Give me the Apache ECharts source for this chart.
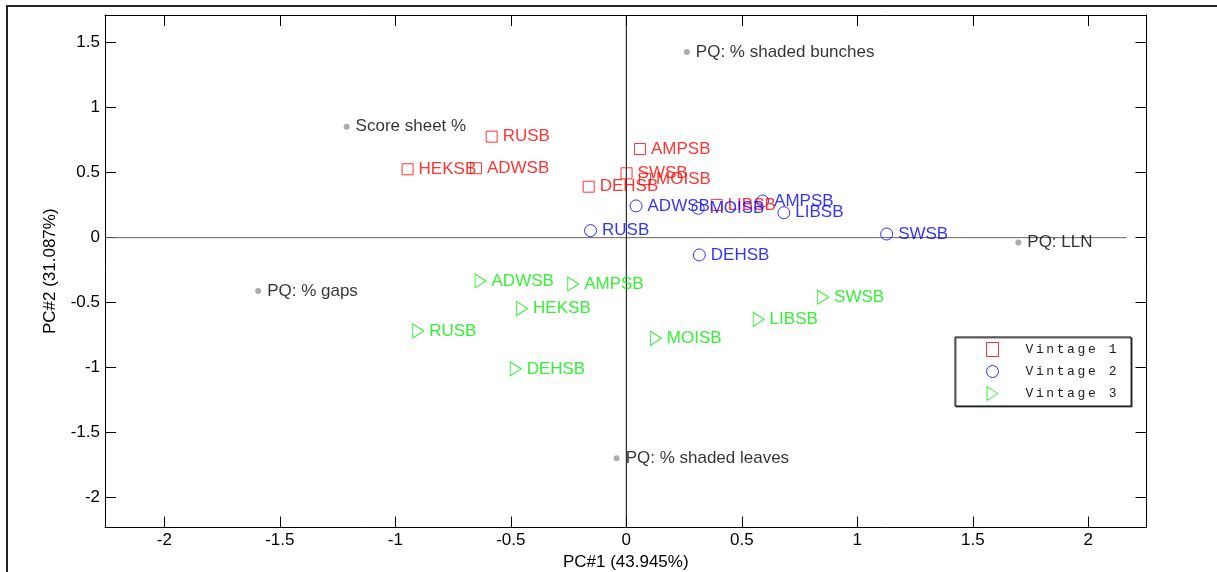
<!DOCTYPE html>
<html>
<head>
<meta charset="utf-8">
<title>PCA scores and loadings</title>
<script src="https://cdn.jsdelivr.net/npm/echarts@6/dist/echarts.min.js"></script>
<style>
  html, body { margin: 0; padding: 0; background: #fff; }
  #chart { width: 1217px; height: 572px; }
</style>
</head>
<body>
<div id="chart"></div>
<script>
// Scores, vintage 1
const v1Names = ['RUSB', 'HEKSB', 'ADWSB', 'AMPSB', 'SWSB', 'MOISB', 'DEHSB', 'LIBSB'];
const v1PC1 = [-0.583, -0.947, -0.651, 0.059, 0.001, 0.081, -0.163, 0.391];
const v1PC2 = [0.777, 0.526, 0.534, 0.682, 0.495, 0.452, 0.392, 0.252];

// Scores, vintage 2
const v2Names = ['ADWSB', 'MOISB', 'AMPSB', 'LIBSB', 'RUSB', 'DEHSB', 'SWSB'];
const v2PC1 = [0.042, 0.311, 0.590, 0.682, -0.155, 0.316, 1.127];
const v2PC2 = [0.244, 0.226, 0.282, 0.192, 0.054, -0.133, 0.028];

// Scores, vintage 3
const v3Names = ['ADWSB', 'AMPSB', 'HEKSB', 'RUSB', 'DEHSB', 'SWSB', 'LIBSB', 'MOISB'];
const v3PC1 = [-0.631, -0.230, -0.451, -0.901, -0.479, 0.852, 0.573, 0.128];
const v3PC2 = [-0.333, -0.356, -0.546, -0.718, -1.010, -0.458, -0.628, -0.774];

// Variable loadings
const loadNames = ['Score sheet %', 'PQ: % shaded bunches', 'PQ: LLN', 'PQ: % gaps', 'PQ: % shaded leaves'];
const loadPC1 = [-1.211, 0.262, 1.697, -1.594, -0.042];
const loadPC2 = [0.854, 1.428, -0.038, -0.410, -1.697];

// Axes
const xRange = [-2.257, 2.252];
const yRange = [-2.23, 1.713];
const xTicks = [-2, -1.5, -1, -0.5, 0, 0.5, 1, 1.5, 2];
const yTicks = [-2, -1.5, -1, -0.5, 0, 0.5, 1, 1.5];
const xTitle = 'PC#1 (43.945%)';
const yTitle = 'PC#2 (31.087%)';
const hZeroSpan = [-2.257, 2.166];

const legendNames = ['Vintage 1', 'Vintage 2', 'Vintage 3'];

const FONT = '"Liberation Sans", Arial, sans-serif';
const FS = 17;

const RED = '#ff0000';
const BLUE = '#0000ff';
const GREEN = '#00ee00';

function points(names, xs, ys) {
  return names.map((n, i) => ({ name: n, value: [xs[i], ys[i]] }));
}

function scoreSeries(name, color, symbol, size, rotate, data) {
  return {
    name: name,
    type: 'scatter',
    symbol: symbol,
    symbolSize: size,
    symbolRotate: rotate,
    itemStyle: { color: 'rgba(0,0,0,0)', borderColor: color, borderWidth: 1 },
    label: {
      show: true,
      position: 'right',
      distance: 5,
      formatter: '{b}',
      color: color,
      fontFamily: FONT,
      fontSize: FS
    },
    emphasis: { disabled: true },
    data: data,
    z: 4
  };
}

// Legend text is typeset on a fixed character pitch
function spaced(name) {
  return '{pad|}' + name.split('').map(c => '{c|' + (c === ' ' ? '\u00a0' : c) + '}').join('');
}

const chart = echarts.init(document.getElementById('chart'), null, { renderer: 'canvas' });

const axisLine = { show: true, onZero: false, lineStyle: { color: '#000', width: 1 } };
const tickIn = { show: true, inside: true, length: 11, lineStyle: { color: '#000', width: 1 } };
const hollow = c => ({ color: 'rgba(0,0,0,0)', borderColor: c, borderWidth: 1 });

chart.setOption({
  animation: false,
  backgroundColor: '#fff',
  grid: { left: 105, top: 15, right: 70.5, bottom: 44.5, containLabel: false, outerBoundsMode: 'none' },
  graphic: [{
    type: 'rect',
    shape: { x: 7, y: 6, width: 1400, height: 800 },
    style: { fill: null, stroke: '#222', lineWidth: 2 },
    silent: true,
    z: 0
  }],
  legend: {
    data: [
      { name: legendNames[0], icon: 'rect', itemStyle: hollow(RED) },
      { name: legendNames[1], icon: 'circle', itemStyle: hollow(BLUE) },
      { name: legendNames[2], icon: 'path://M0,0L11,7L0,14Z', itemStyle: hollow(GREEN) }
    ],
    orient: 'vertical',
    left: 955,
    top: 337,
    padding: [5, 12, 5, 31],
    itemWidth: 12,
    itemHeight: 14,
    itemGap: 8,
    backgroundColor: '#fff',
    borderColor: '#000',
    borderWidth: 1,
    borderRadius: 0,
    shadowColor: 'rgba(0,0,0,0.6)',
    shadowOffsetX: 1,
    shadowOffsetY: 1,
    shadowBlur: 0,
    selectedMode: false,
    formatter: spaced,
    textStyle: {
      rich: {
        pad: { width: 22 },
        c: { width: 10.4, align: 'left', fontFamily: '"Liberation Mono", "DejaVu Sans Mono", monospace', fontSize: 13, color: '#222', lineHeight: 12 }
      }
    }
  },
  xAxis: [{
    type: 'value',
    position: 'bottom',
    min: xRange[0],
    max: xRange[1],
    axisLine: axisLine,
    axisTick: Object.assign({ customValues: xTicks }, tickIn),
    axisLabel: {
      customValues: xTicks,
      margin: 4,
      color: '#000',
      fontFamily: FONT,
      fontSize: FS,
      formatter: v => String(v)
    },
    splitLine: { show: false },
    name: xTitle,
    nameLocation: 'middle',
    nameGap: 21,
    nameTextStyle: { color: '#000', fontFamily: FONT, fontSize: FS }
  }, {
    type: 'value',
    position: 'top',
    min: xRange[0],
    max: xRange[1],
    axisLine: axisLine,
    axisTick: Object.assign({ customValues: xTicks }, tickIn),
    axisLabel: { show: false },
    splitLine: { show: false }
  }],
  yAxis: [{
    type: 'value',
    position: 'left',
    min: yRange[0],
    max: yRange[1],
    axisLine: axisLine,
    axisTick: Object.assign({ customValues: yTicks }, tickIn),
    axisLabel: {
      customValues: yTicks,
      margin: 5,
      color: '#000',
      fontFamily: FONT,
      fontSize: FS,
      formatter: v => String(v)
    },
    splitLine: { show: false },
    name: yTitle,
    nameLocation: 'middle',
    nameGap: 46,
    nameTextStyle: { color: '#000', fontFamily: FONT, fontSize: FS }
  }, {
    type: 'value',
    position: 'right',
    min: yRange[0],
    max: yRange[1],
    axisLine: axisLine,
    axisTick: Object.assign({ customValues: yTicks }, tickIn),
    axisLabel: { show: false },
    splitLine: { show: false }
  }],
  series: [
    {
      name: 'zero-h',
      type: 'line',
      symbol: 'none',
      silent: true,
      lineStyle: { color: '#666', width: 1 },
      data: [[hZeroSpan[0], 0], [hZeroSpan[1], 0]],
      z: 1
    },
    {
      name: 'zero-v',
      type: 'line',
      symbol: 'none',
      silent: true,
      lineStyle: { color: '#000', width: 1 },
      data: [[0, yRange[0]], [0, yRange[1]]],
      z: 1
    },
    {
      name: 'loadings',
      type: 'scatter',
      symbol: 'circle',
      symbolSize: 6,
      itemStyle: { color: '#999' },
      label: {
        show: true,
        position: 'right',
        distance: 6,
        formatter: '{b}',
        color: '#000',
        fontFamily: FONT,
        fontSize: FS
      },
      emphasis: { disabled: true },
      data: points(loadNames, loadPC1, loadPC2),
      z: 3
    },
    scoreSeries(legendNames[0], RED, 'rect', 11, 0, points(v1Names, v1PC1, v1PC2)),
    scoreSeries(legendNames[1], BLUE, 'circle', 12, 0, points(v2Names, v2PC1, v2PC2)),
    scoreSeries(legendNames[2], GREEN, 'triangle', [14, 11], -90, points(v3Names, v3PC1, v3PC2))
  ]
});
</script>
</body>
</html>
